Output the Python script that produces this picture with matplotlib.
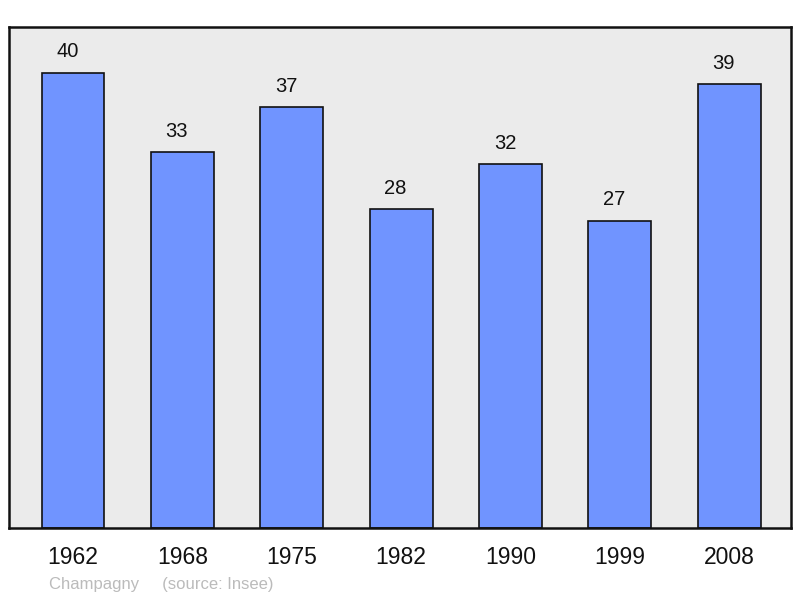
import matplotlib.pyplot as plt
import numpy as np

# population by census year
years = ['1962', '1968', '1975', '1982', '1990', '1999', '2008']
population = [40, 33, 37, 28, 32, 27, 39]

plt.rcParams['font.family'] = ['Liberation Sans', 'DejaVu Sans']

fig = plt.figure(figsize=(8, 5.98), dpi=100)
ax = fig.add_axes([9/800, 70/598, 782/800, 501/598])
ax.set_facecolor('#ebebeb')

x = np.arange(len(years))
ax.bar(x, population, width=0.575, color='#7094ff', edgecolor='#111111', linewidth=1.2)

# value labels sit a bit left of the bar centre in the original
for xi, v in zip(x, population):
    ax.annotate(str(v), (xi, v), xytext=(-4, 8), textcoords='offset points',
                ha='center', va='bottom', fontsize=14.5, color='#111111')

ax.set_xlim(-0.585, 6.565)
ax.set_ylim(0, 44)
ax.set_yticks([])
ax.set_xticks(x)
ax.set_xticklabels(years, fontsize=16.5, color='#111111')
ax.tick_params(axis='x', length=0, pad=13)
for s in ax.spines.values():
    s.set_linewidth(1.8)
    s.set_color('#111111')

fig.text(49/800, 1 - 584/598, 'Champagny     (source: Insee)', fontsize=12,
         color='#bbbbbb', ha='left', va='center')

fig.savefig('out.png', dpi=100)
